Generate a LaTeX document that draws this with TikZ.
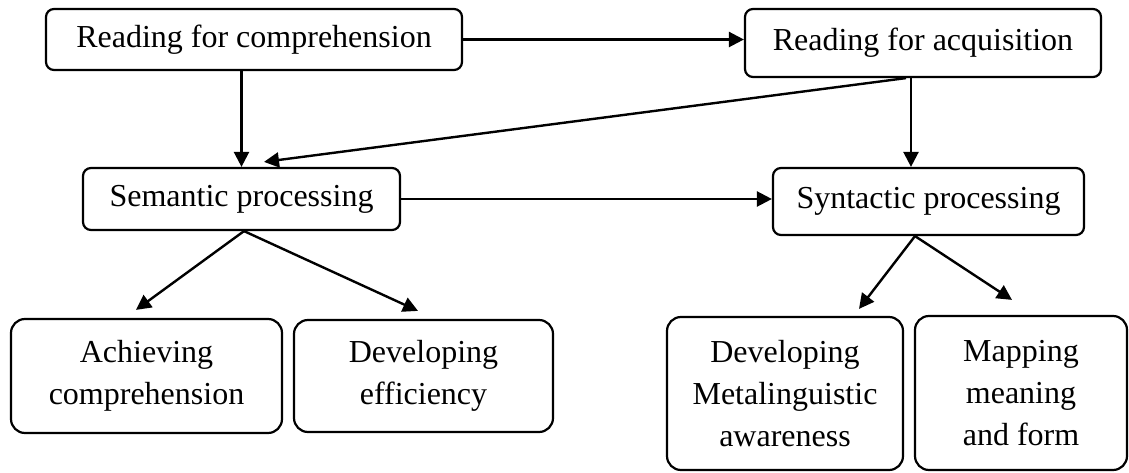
\documentclass[tikz,border=0pt]{standalone}
\usepackage{fontspec}
\setmainfont{Liberation Serif}
\usetikzlibrary{arrows.meta}
\begin{document}
\begin{tikzpicture}[x=1pt,y=1pt,
  box/.style={draw, line width=2.2pt, rounded corners=8pt, inner sep=0pt, align=center,
    font=\fontsize{32}{42}\selectfont},
  bigbox/.style={box, rounded corners=14pt},
  arr/.style={line width=2.4pt, -{Triangle[length=15pt,width=15pt]}}]
\useasboundingbox (0,0) rectangle (1129,-473);
\node[box, minimum width=416pt, minimum height=61pt] (RfC) at (254,-39.5) {Reading for comprehension};
\node[box, minimum width=356pt, minimum height=68pt] (RfA) at (923,-43) {Reading for acquisition};
\node[box, minimum width=317pt, minimum height=62pt] (Sem) at (241.5,-199) {Semantic processing};
\node[box, minimum width=311pt, minimum height=67pt] (Syn) at (928.5,-201.5) {Syntactic processing};
\node[bigbox, minimum width=271pt, minimum height=114pt] (Ach) at (146.5,-376) {Achieving\\comprehension};
\node[bigbox, minimum width=259pt, minimum height=112pt] (DE) at (423.5,-376) {Developing\\efficiency};
\node[bigbox, minimum width=236pt, minimum height=153pt] (DM) at (785,-393.5) {Developing\\Metalinguistic\\awareness};
\node[bigbox, minimum width=212pt, minimum height=154pt] (MMF) at (1021,-393) {Mapping\\meaning\\and form};
\draw[arr] (RfC.east) -- (RfC.east -| RfA.west);
\draw[arr] (Sem.north |- RfC.south) -- (Sem.north);
\draw[arr] ([xshift=-17pt]RfA.south) -- ([xshift=22.5pt,yshift=5pt]Sem.north);
\draw[arr] ([xshift=-12pt]RfA.south) -- ([xshift=-12pt]RfA.south |- Syn.north);
\draw[arr] (Sem.east) -- (Sem.east -| Syn.west);
\draw[arr] ([xshift=2.5pt]Sem.south) -- ([xshift=-10.5pt,yshift=8pt]Ach.north);
\draw[arr] ([xshift=2.5pt]Sem.south) -- ([xshift=-5.5pt,yshift=8pt]DE.north);
\draw[arr] ([xshift=-13.5pt]Syn.south) -- ([xshift=74pt,yshift=7pt]DM.north);
\draw[arr] ([xshift=-13.5pt]Syn.south) -- ([xshift=-9pt,yshift=15pt]MMF.north);
\end{tikzpicture}
\end{document}
